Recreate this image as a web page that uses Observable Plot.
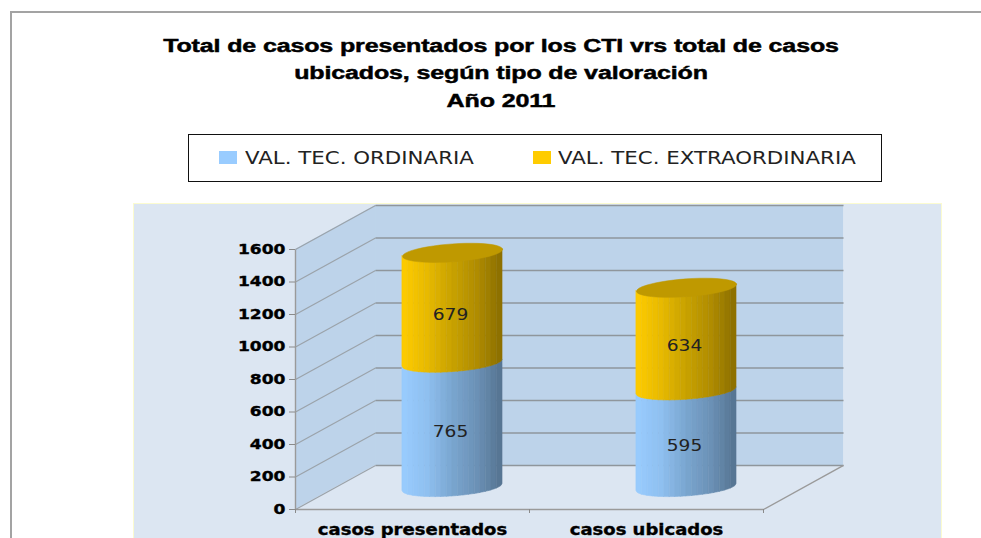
<!DOCTYPE html>
<html lang="es">
<head>
<meta charset="utf-8">
<script src="https://cdn.jsdelivr.net/npm/d3@7"></script>
<script src="https://cdn.jsdelivr.net/npm/@observablehq/plot@0.6"></script>
<style>
  html, body { margin: 0; background: #fff; }
  #page { position: relative; width: 981px; height: 538px; overflow: hidden; background: #fff; }
  #frame { position: absolute; left: 10px; top: 11px; width: 975px; height: 540px; border: 2px solid #a3a3a3; box-sizing: border-box; }
  .title { position: absolute; left: 100.5px; width: 800px; text-align: center; font: bold 18px "Liberation Sans", sans-serif; color: #000; line-height: 22px; transform: scaleX(1.39); letter-spacing: -0.1px; -webkit-text-stroke: 0.45px #000; }
  #legend { position: absolute; left: 188px; top: 134px; width: 694px; height: 48px; box-sizing: border-box; border: 1.5px solid #111; background: #fff; }
  .swatch { position: absolute; top: 16px; width: 18px; height: 13px; }
  .ltext { position: absolute; top: 12px; font: 17px "DejaVu Sans", sans-serif; color: #222; line-height: 22px; white-space: nowrap; transform-origin: left center; transform: scaleX(1.255); }
  #chart { position: absolute; left: 134px; top: 204px; }
  #panelEdge { position: absolute; left: 133px; top: 203px; width: 809px; height: 340px; box-sizing: border-box; border: 1.5px solid #fbfbd0; }
  .ytick text, .xcat text { stroke: #000; stroke-width: 0.35px; }
</style>
</head>
<body>
<div id="page">
  <div id="frame"></div>
  <div class="title" style="top:35px">Total de casos presentados por los CTI vrs total de casos</div>
  <div class="title" style="top:62px">ubicados, según tipo de valoración</div>
  <div class="title" style="top:90px">Año 2011</div>
  <div id="legend"></div>
  <div id="chart"></div>
  <div id="panelEdge"></div>
</div>
<script>
const categories = ["casos presentados", "casos ubicados"];
const ordinaria = [765, 595];
const extraordinaria = [679, 634];
const seriesNames = ["VAL. TEC. ORDINARIA", "VAL. TEC. EXTRAORDINARIA"];
const yTicks = [0, 200, 400, 600, 800, 1000, 1200, 1400, 1600];

const blueStops = ["#99ccff", "#8fc0f0", "#7aa6d0", "#6b91b6", "#557390"];
const goldStops = ["#ffcc00", "#e8ba00", "#c9a200", "#b08c00", "#8a6e00"];
const capColor = "#bf9900";

// 3D projection of the chart's box, in scale units
const depthX = 0.342, depthY = 271;
const radiusX = 0.2137, tiltA = 21.5, tiltB = 55;
const stripCount = 18, stripSamples = 6;

const rows = categories.map((c, i) => ({
  c, center: i + 0.5 + depthX / 2,
  a0: depthY / 2, a1: depthY / 2 + ordinaria[i],
  b1: depthY / 2 + ordinaria[i] + extraordinaria[i],
  va: ordinaria[i], vb: extraordinaria[i]
}));

const front = (v, u) => v + tiltA * u - tiltB * Math.sqrt(Math.max(0, 1 - u * u));
const strips = [];
const addSide = (r, lo, hi, stops, key) => {
  const col = d3.scaleLinear().domain(stops.map((_, i) => i / (stops.length - 1))).range(stops).interpolate(d3.interpolateRgb);
  for (let s = 0; s < stripCount; s++) {
    for (let k = 0; k <= stripSamples; k++) {
      const f = (s + k / stripSamples) / stripCount, u = 2 * f - 1;
      strips.push({
        x: r.center + radiusX * u, y1: front(lo, u), y2: front(hi, u),
        id: key + s, fill: col((s + 0.5) / stripCount)
      });
    }
  }
};
rows.forEach((r, i) => { addSide(r, r.a0, r.a1, blueStops, "a" + i); addSide(r, r.a1, r.b1, goldStops, "b" + i); });

const caps = rows.flatMap((r, i) => d3.range(0, 49).map(j => {
  const t = j / 48 * 2 * Math.PI;
  return { x: r.center + radiusX * Math.cos(t), y: r.b1 + tiltA * Math.cos(t) + tiltB * Math.sin(t), id: i };
}));

const labels = rows.flatMap(r => [
  { x: r.center, y: (r.a0 + r.a1) / 2, t: String(r.va) },
  { x: r.center, y: (r.a1 + r.b1) / 2, t: String(r.vb) }
]);

const wallBlue = "#bdd3ea", floorColor = "#dce6f2", gridBack = "#8f969c", gridSide = "#9ba3aa";
const nCat = categories.length;

const sideLinks = yTicks.map(v => ({ x1: 0, y1: v, x2: depthX, y2: v + depthY }));
const backLinks = yTicks.map(v => ({ x1: depthX, y1: v + depthY, x2: nCat + depthX, y2: v + depthY }));
const floorLinks = [
  { x1: nCat, y1: 0, x2: nCat + depthX, y2: depthY },
  { x1: 0, y1: 0, x2: nCat, y2: 0 },
  { x1: 0, y1: 0, x2: 0, y2: 1600 }
];
const linkOpts = { x1: "x1", y1: "y1", x2: "x2", y2: "y2" };

const plot = Plot.plot({
  width: 807, height: 334,
  marginLeft: 161, marginRight: 178, marginTop: 45, marginBottom: 29,
  style: { background: floorColor, overflow: "visible" },
  x: { type: "linear", domain: [0, nCat] },
  y: { type: "linear", domain: [0, 1600] },
  color: { type: "identity" },
  marks: [
    // left wall and back wall
    Plot.areaY([{ x: 0, a: 0, b: 1600 }, { x: depthX, a: depthY, b: 1600 + depthY }], { x: "x", y1: "a", y2: "b", fill: wallBlue }),
    Plot.areaY([{ x: depthX, a: depthY, b: 1600 + depthY }, { x: nCat + depthX, a: depthY, b: 1600 + depthY }], { x: "x", y1: "a", y2: "b", fill: wallBlue }),
    // gridlines on both walls
    Plot.link(sideLinks, { ...linkOpts, stroke: gridSide, strokeWidth: 1.2 }),
    Plot.link(backLinks, { ...linkOpts, stroke: gridBack, strokeWidth: 1.6 }),
    // floor edges and axis line
    Plot.link(floorLinks, { ...linkOpts, stroke: "#9a9a9a", strokeWidth: 1.4 }),
    // cylinders
    Plot.areaY(strips, { x: "x", y1: "y1", y2: "y2", z: "id", fill: "fill", stroke: "fill", strokeWidth: 0.6 }),
    Plot.line(caps, { x: "x", y: "y", z: "id", fill: capColor, stroke: capColor, strokeWidth: 0.5 }),
    // axes
    Plot.axisY({ ticks: yTicks, tickFormat: d3.format("d"), tickSize: 6, tickPadding: 4, label: null, stroke: "#8a8a8a", fill: "#000", fontSize: 14, fontWeight: "bold", fontFamily: "DejaVu Sans", className: "ytick" }),
    Plot.axisX({ ticks: d3.range(0, nCat + 1), tickSize: 4, tickFormat: () => "", label: null, stroke: "#8a8a8a" }),
    Plot.axisX({ ticks: categories.map((_, i) => i + 0.5), tickFormat: d => categories[Math.floor(d)], tickSize: 0, tickPadding: 15, label: null, fill: "#000", fontSize: 15, fontWeight: "bold", fontFamily: "DejaVu Sans", className: "xcat" }),
    // data labels
    Plot.text(labels, { x: "x", y: "y", text: "t", dy: 7, dx: -2, fill: "#222", fontSize: 15.5, fontFamily: "DejaVu Sans", className: "vlabel" })
  ]
});
document.getElementById("chart").appendChild(plot);

const stretch = (sel, k) => plot.querySelectorAll(sel + " text, text" + sel).forEach(el => {
  const len = el.getComputedTextLength();
  if (!len) return;
  el.setAttribute("textLength", len * k);
  el.setAttribute("lengthAdjust", "spacingAndGlyphs");
});
stretch(".ytick", 1.22);
stretch(".xcat", 1.2);
stretch(".vlabel", 1.2);

// legend
const legend = document.getElementById("legend");
[[seriesNames[0], blueStops[0], 30, 56], [seriesNames[1], goldStops[0], 344, 369]].forEach(([name, color, sx, tx]) => {
  const s = document.createElement("span");
  s.className = "swatch"; s.style.left = sx + "px"; s.style.background = color;
  const t = document.createElement("span");
  t.className = "ltext"; t.style.left = tx + "px"; t.textContent = name;
  legend.append(s, t);
});
</script>
</body>
</html>
